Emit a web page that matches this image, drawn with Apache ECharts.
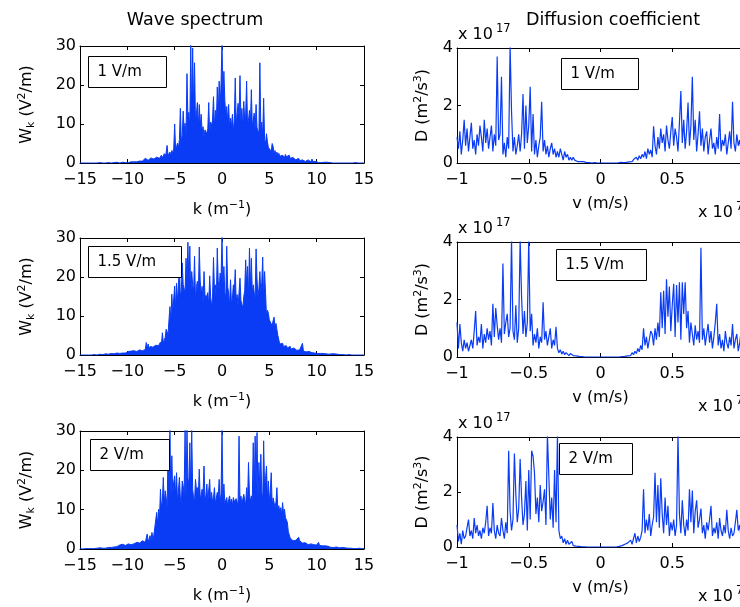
<!DOCTYPE html>
<html><head><meta charset="utf-8">
<script src="https://cdn.jsdelivr.net/npm/echarts@6/dist/echarts.min.js"></script>
<style>html,body{margin:0;padding:0;background:#fff}#c{width:740px;height:607px}</style>
</head><body><div id="c"></div>
<script>
// sampling grids
const kMin = -15, kStep = 0.1;   // wave number k (1/m)
const vMin = -1, vStep = 0.01;   // velocity v (x1e7 m/s)

// Wave spectrum W_k (V^2/m), k = -15 ... 15
const wave1 = [
0,0,0.1,0,0,0.1,0,0,0.1,0,
0,0.1,0,0,0.1,0,0.1,0,0,0.1,
0,0.1,0,0.1,0,0.1,0,0,0.1,0,
0.1,0,0.1,0,0.2,0,0.1,0,0.1,0.2,
0.1,0.2,0,0.1,0.5,0.2,0.1,0.3,0.1,0.2,
0.3,0.1,0.4,0.2,0.3,0.2,0.5,0.3,0.2,0.4,
0.3,0.6,0.4,0.5,0.3,0.7,0.5,0.9,0.6,1.2,
0.8,1.4,0.7,1.1,0.9,1.3,0.8,1.6,1.0,1.2,
0.9,1.5,1.1,1.7,1.2,1.4,2.0,1.3,1.8,2.4,
1.6,2.6,4.5,1.9,2.2,2.8,2.0,3.2,2.5,3.6,
10.0,3.5,4.2,5.1,3.8,6.0,14.0,5.5,7.0,13.3,
8.5,10.2,7.0,22.9,11.5,13.0,9.0,30.5,12.0,29.5,
14.0,25.7,10.5,12.8,15.5,9.0,15.0,9.3,12.5,8.0,
9.3,6.5,8.5,9.0,7.5,8.8,15.5,7.0,10.5,9.5,
11.0,17.0,9.0,13.5,10.0,19.5,12.5,21.0,14.0,20.5,
31.0,18.0,23.5,16.0,12.0,14.5,10.5,15.0,9.0,11.5,
9.3,12.5,8.0,11.0,21.8,10.0,9.5,15.3,12.0,22.4,
10.5,14.0,9.0,15.8,11.0,12.5,21.0,9.5,11.0,13.5,
10.0,18.8,9.5,11.0,12.8,8.5,15.0,9.0,9.3,7.5,
25.7,8.0,10.5,7.0,16.6,6.0,5.0,7.5,5.4,4.0,
4.5,3.5,3.0,5.0,4.2,2.5,3.2,2.0,2.8,1.8,
2.5,1.7,2.2,1.5,2.0,1.9,1.4,2.2,1.6,1.9,
1.3,2.0,1.2,1.7,1.1,1.4,0.9,1.6,0.8,1.0,
0.7,1.2,0.6,0.9,0.5,0.8,0.6,1.0,0.4,0.7,
0.5,0.8,0.4,0.6,0.3,1.0,0.4,0.5,0.3,0.4,
0.2,0.3,0.1,0.2,0.3,0.1,0.2,0.1,0.2,0.1,
0.1,0.2,0,0.1,0.1,0,0.1,0,0.1,0,
0,0.1,0,0,0.1,0,0,0.1,0,0,
0.1,0,0,0.1,0,0,0.1,0,0,0,
0,0.1,0,0,0,0.1,0,0,0,0,
0];
const wave2 = [
0,0,0.1,0,0,0.1,0,0,0.1,0,
0,0.1,0,0.1,0,0.1,0,0.1,0,0.1,
0.1,0.2,0.1,0.2,0.1,0.2,0.1,0.3,0.2,0.3,
0.2,0.3,0.2,0.4,0.3,0.5,0.3,0.4,0.3,0.5,
0.4,0.6,0.4,0.5,0.7,0.5,0.6,0.8,0.5,0.7,
0.6,0.9,0.7,0.8,1.0,0.7,0.9,1.1,0.8,1.0,
0.9,1.2,0.8,1.3,1.0,1.4,1.1,1.5,1.2,1.4,
3.2,1.6,2.8,1.5,2.2,1.9,2.6,2.0,2.4,1.8,
2.5,2.1,3.0,2.4,2.8,3.3,2.6,5.7,3.1,3.8,
4.5,6.6,7.0,5.2,9.0,12.4,8.5,15.6,11.0,10.5,
17.7,12.0,18.4,13.5,14.0,22.7,15.0,16.5,23.6,18.0,
18.0,16.0,24.8,19.0,28.9,17.5,27.9,15.0,21.4,18.0,
16.0,25.3,14.0,17.5,18.9,15.0,27.7,19.0,15.5,17.6,
13.0,21.4,15.5,14.5,14.1,16.0,12.5,20.3,15.0,12.4,
14.5,25.0,17.0,18.0,13.5,27.4,19.0,16.5,21.0,19.5,
30.5,18.0,22.7,16.0,14.5,27.9,17.5,15.9,12.5,19.3,
13.0,14.6,18.0,16.5,21.9,13.5,15.5,12.4,16.0,19.7,
14.0,13.5,12.0,15.0,16.5,24.4,18.0,22.7,14.5,27.4,
17.0,24.8,16.0,18.0,15.9,14.5,27.2,19.5,15.0,17.1,
21.4,16.0,18.5,25.1,14.0,21.4,16.0,9.9,11.5,10.7,
9.0,8.5,9.4,7.5,8.8,9.7,7.0,8.1,6.5,5.0,
3.9,2.8,3.2,2.5,3.0,2.2,2.6,1.9,2.4,1.8,
2.0,1.7,2.2,1.5,1.9,1.4,1.8,1.3,1.6,1.2,
1.4,1.1,1.3,1.0,1.2,3.0,1.0,0.9,1.1,0.8,
1.0,0.8,0.9,0.7,0.8,0.6,0.7,0.6,0.5,0.7,
0.5,0.4,0.6,0.3,0.4,0.5,0.3,0.4,0.3,0.4,
0.3,0.2,0.4,0.2,0.3,0.2,0.3,0.2,0.2,0.3,
0.2,0.1,0.2,0.1,0.2,0.1,0.1,0.2,0.1,0.1,
0.1,0,0.1,0,0.1,0,0.1,0,0,0.1,
0,0.1,0,0,0.1,0,0,0,0.1,0,
0];
const wave3 = [
0.1,0,0.1,0,0.1,0,0.1,0,0.1,0.1,
0.1,0.2,0.1,0.1,0.2,0.1,0.2,0.1,0.2,0.1,
0.2,0.3,0.2,0.3,0.2,0.4,0.3,0.2,0.4,0.3,
0.4,0.3,0.5,0.4,0.6,0.4,0.5,0.7,0.5,0.6,
0.8,0.6,1.0,0.7,0.9,1.2,0.8,1.0,0.9,1.3,
1.0,1.3,0.9,1.2,1.1,1.4,1.0,1.3,1.2,1.5,
1.7,1.3,2.0,1.5,1.8,1.4,2.1,1.6,1.9,1.7,
2.2,3.8,1.9,2.5,3.4,2.0,4.2,2.6,3.5,4.0,
3.2,9.3,6.0,10.1,8.0,15.2,10.5,12.0,18.2,11.5,
14.8,13.0,10.5,24.5,16.0,30.5,12.0,23.7,14.0,17.0,
18.6,13.5,19.4,12.0,15.0,18.2,13.0,11.5,17.3,16.0,
14.0,30.5,12.5,30.5,18.0,16.0,27.0,14.0,30.5,15.2,
13.0,12.0,17.7,15.0,15.6,13.5,20.3,12.5,13.0,15.2,
14.0,21.1,12.5,13.5,16.5,12.0,15.0,17.7,11.5,14.4,
12.0,13.0,15.6,11.5,12.0,14.4,13.0,17.7,12.0,14.0,
30.5,12.5,16.5,11.5,12.0,13.1,11.0,12.5,13.5,11.5,
12.7,11.0,13.1,12.0,11.5,12.8,12.0,11.0,28.7,12.0,
13.5,11.5,12.0,13.9,12.5,11.0,15.6,12.0,22.0,14.0,
12.0,13.5,12.5,27.0,14.0,28.7,16.0,29.6,13.0,22.0,
15.0,24.1,14.5,12.0,27.5,15.5,18.0,21.1,13.0,17.3,
12.0,14.5,19.4,11.0,13.0,11.8,10.5,12.0,15.6,10.0,
11.0,9.5,10.5,8.8,11.8,9.0,10.1,8.0,7.5,6.8,
4.5,3.6,2.8,3.2,2.4,2.1,2.6,1.9,2.2,2.0,
1.8,3.0,2.1,1.6,2.1,1.5,1.9,1.4,1.6,1.3,
1.3,1.1,1.4,1.0,1.3,1.2,1.0,1.1,1.3,0.9,
1.0,0.8,1.7,0.9,1.3,0.7,0.8,0.9,0.6,0.8,
0.6,0.5,0.7,0.5,0.6,0.4,0.5,0.6,0.4,0.5,
0.4,0.5,0.3,0.4,0.3,0.5,0.3,0.4,0.3,0.2,
0.3,0.2,0.3,0.2,0.2,0.1,0.2,0.1,0.2,0.1,
0.1,0.2,0.1,0.1,0.1,0.2,0.1,0.1,0.1,0.1,
0.1];

// Diffusion coefficient D (x1e17 m^2/s^3), v = -1 ... 1 (x1e7 m/s)
const diff1 = [
0.9,0.5,1.1,0.3,0.8,1.5,0.6,1.2,0.4,0.9,
1.4,0.5,0.8,0.3,1.0,0.6,1.3,0.9,0.4,1.5,
0.7,1.2,0.5,0.9,1.3,0.4,1.0,0.6,3.7,0.8,
1.0,3.0,0.3,0.7,0.2,0.9,0.5,4.1,1.8,0.4,
0.9,0.3,0.6,1.0,0.4,1.0,2.4,0.5,2.0,0.7,
1.3,2.65,0.4,1.7,0.3,0.8,0.2,0.6,0.9,2.13,
0.4,0.8,0.3,0.6,0.2,0.5,0.7,0.3,0.5,0.2,
0.4,0.2,0.5,0.3,0.1,0.4,0.2,0.3,0.1,0.2,
0.1,0.2,0.1,0.15,0.05,0.1,0.05,0.02,0.05,0.01,
0.02,0,0.01,0,0,0,0.01,0,0,0,
0,0,0,0,0,0,0,0,0,0,
0,0.01,0,0,0.02,0,0.01,0.03,0.02,0.05,
0.04,0.08,0.05,0.12,0.07,0.2,0.1,0.25,0.15,0.3,
0.2,0.4,0.15,0.5,0.3,0.45,0.2,1.28,0.6,0.3,
0.9,0.5,1.2,0.7,1.0,0.4,1.3,0.8,0.5,1.1,
1.6,0.6,1.2,0.9,0.4,1.4,2.5,0.7,1.5,0.5,
1.1,2.1,0.6,1.3,3.0,0.8,1.5,0.4,1.0,1.8,
0.6,1.2,0.4,0.9,1.1,0.3,0.8,1.2,0.5,0.7,
0.3,0.9,0.5,1.7,0.4,0.8,0.6,1.0,0.3,0.7,
1.1,0.5,2.13,0.7,0.4,1.0,0.6,0.8,0.4,0.7,
0.5];
const diff2 = [
1.2,0.3,1.15,0.5,0.2,0.6,0.3,0.5,0.2,0.4,
0.6,0.3,0.9,1.6,0.4,0.7,0.5,1.15,0.3,0.8,
0.5,1.0,0.6,0.9,0.4,1.85,0.7,1.7,1.1,0.6,
1.0,0.5,3.25,0.8,1.2,1.5,0.7,1.0,4.1,0.9,
0.6,1.8,0.5,1.0,4.1,2.1,0.8,1.6,0.7,1.2,
4.1,0.9,1.5,0.4,0.8,0.5,1.0,0.3,0.7,0.5,
1.9,0.6,0.9,0.4,0.7,1.0,0.3,0.6,0.4,1.05,
0.3,0.15,0.25,0.1,0.2,0.08,0.15,0.1,0.05,0.12,
0.08,0.05,0.1,0.04,0.06,0.02,0.04,0.01,0.02,0,
0.01,0,0,0,0,0,0,0,0,0,
0,0,0,0,0,0,0,0,0,0,
0,0,0.01,0,0.02,0.01,0.03,0.02,0.06,0.04,
0.1,0.05,0.15,0.08,0.2,0.12,0.3,0.18,0.4,0.25,
1.0,0.4,0.7,0.3,0.6,0.9,0.8,0.4,1.0,0.6,
1.2,0.7,2.25,1.0,2.3,0.8,2.7,1.4,2.45,0.9,
1.8,2.55,0.7,2.5,1.2,2.6,0.6,2.6,1.5,2.6,
1.0,1.6,0.5,1.2,0.8,0.4,1.1,0.6,0.9,0.5,
3.8,0.6,1.0,0.4,0.8,1.15,0.5,0.9,0.3,0.7,
1.2,1.85,0.4,0.8,0.3,0.6,0.2,0.9,0.5,0.3,
0.7,0.4,1.15,0.3,0.6,0.8,0.2,0.5,0.9,0.4,
0.6];
const diff3 = [
0.8,0.2,0.5,0.1,0.6,0.3,0.4,0.7,1.0,0.4,
0.6,0.3,1.05,0.5,0.8,0.4,0.6,0.3,0.7,0.5,
0.9,1.5,0.4,0.7,0.5,1.6,0.6,0.3,0.8,0.5,
0.4,1.05,0.6,0.3,0.9,0.5,3.5,1.3,0.6,1.0,
3.4,1.9,0.9,1.4,3.2,1.8,0.8,1.2,2.4,0.6,
2.8,1.0,3.5,3.3,2.7,1.2,1.8,0.9,2.25,1.3,
1.65,2.1,0.8,4.1,2.56,1.0,1.8,0.7,2.8,0.9,
4.1,0.6,0.3,0.4,0.15,0.3,0.1,0.25,0.1,0.15,
0.2,0.05,0.1,0.03,0.06,0.02,0.04,0.01,0,0.01,
0,0,0,0,0,0,0,0,0,0,
0,0,0,0,0,0,0,0,0,0,
0,0,0,0.02,0.01,0.05,0.02,0.1,0.04,0.15,
0.08,0.25,0.1,0.3,0.5,0.15,0.4,0.2,0.35,0.6,
2.1,0.5,1.0,0.6,1.2,0.4,0.8,1.1,2.7,0.9,
2.25,0.7,2.5,1.2,0.5,1.8,0.8,1.5,0.4,0.9,
0.6,1.0,0.4,0.8,4.1,1.2,0.5,1.7,0.8,0.4,
1.0,0.6,2.1,0.9,2.05,0.5,1.3,1.7,0.7,1.0,
1.4,0.5,0.8,0.3,0.9,0.6,1.0,1.5,0.4,0.7,
0.5,0.9,0.3,1.05,0.6,0.4,0.8,0.5,1.35,0.6,
0.3,0.7,0.4,0.5,0.9,1.35,0.6,0.8,0.3,0.5,
0.6];

const fieldLabels = ['1 V/m', '1.5 V/m', '2 V/m'];
const leftTitle = 'Wave spectrum';
const rightTitle = 'Diffusion coefficient';
const kTicks = { min: -15, max: 15, interval: 5 };
const wTicks = { min: 0, max: 30, interval: 10 };
const vTicks = { min: -1, max: 1, interval: 0.5 };
const dTicks = { min: 0, max: 4, interval: 2 };

const FONT = 'DejaVu Sans';
const BLUE = '#0a3cf5';

function pairs(start, step, vals) {
  return vals.map((y, i) => [Math.round((start + i * step) * 1000) / 1000, y]);
}
function minus(v) { return (v < 0 ? '\u2212' : '') + Math.abs(v); }

const leftBoxes = [{top:46,height:117},{top:238,height:117},{top:431,height:118}];
const rightBoxes = [{top:48,height:115},{top:242,height:115},{top:437,height:110}];

const grids = [], xAxes = [], yAxes = [], series = [];
const rich = {
  m: { fontSize: 16, fontFamily: FONT, color: '#000' },
  s: { fontSize: 11, fontFamily: FONT, color: '#000', padding: [0, 0, 9, 0] },
  b: { fontSize: 11, fontFamily: FONT, color: '#000', padding: [9, 0, 0, 0] }
};
const lbl = { color: '#000', fontFamily: FONT, fontSize: 16 };
function axisBase(extra) {
  return Object.assign({
    type: 'value',
    axisLine: { show: true, onZero: false, lineStyle: { color: '#000', width: 1 } },
    axisTick: { show: true, inside: true, length: 4, lineStyle: { color: '#000', width: 1 } },
    splitLine: { show: false }
  }, extra);
}

const waves = [wave1, wave2, wave3];
const diffs = [diff1, diff2, diff3];

for (let r = 0; r < 3; r++) {
  // left panel
  let gi = grids.length;
  grids.push({ left: 80, width: 284, top: leftBoxes[r].top, height: leftBoxes[r].height, outerBoundsMode: 'none', containLabel: false });
  xAxes.push(axisBase({ gridIndex: gi, position: 'bottom', min: kTicks.min, max: kTicks.max, interval: kTicks.interval,
    axisLabel: Object.assign({ margin: 9, formatter: minus }, lbl),
    name: '{m|k (m}{s|\u22121}{m|)}', nameLocation: 'middle', nameGap: 37,
    nameTextStyle: { rich: rich } }));
  xAxes.push(axisBase({ gridIndex: gi, position: 'top', min: kTicks.min, max: kTicks.max, interval: kTicks.interval,
    axisLabel: { show: false } }));
  yAxes.push(axisBase({ gridIndex: gi, position: 'left', min: wTicks.min, max: wTicks.max, interval: wTicks.interval,
    axisLabel: Object.assign({ margin: 4 }, lbl),
    name: '{m|W}{b|k}{m| (V}{s|2}{m|/m)}', nameLocation: 'middle', nameGap: 43, nameRotate: 90,
    nameTextStyle: { rich: rich } }));
  yAxes.push(axisBase({ gridIndex: gi, position: 'right', min: wTicks.min, max: wTicks.max, interval: wTicks.interval,
    axisLabel: { show: false } }));
  series.push({ type: 'line', xAxisIndex: xAxes.length - 2, yAxisIndex: yAxes.length - 2,
    data: pairs(kMin, kStep, waves[r]), showSymbol: false, symbol: 'none', animation: false,
    lineStyle: { color: BLUE, width: 1 }, areaStyle: { color: BLUE, opacity: 1 }, clip: true });

  // right panel
  gi = grids.length;
  grids.push({ left: 457, width: 287, top: rightBoxes[r].top, height: rightBoxes[r].height, outerBoundsMode: 'none', containLabel: false });
  xAxes.push(axisBase({ gridIndex: gi, position: 'bottom', min: vTicks.min, max: vTicks.max, interval: vTicks.interval,
    axisLabel: Object.assign({ margin: 9, formatter: minus }, lbl),
    name: 'v (m/s)', nameLocation: 'middle', nameGap: 33,
    nameTextStyle: { color: '#000', fontFamily: FONT, fontSize: 16 } }));
  xAxes.push(axisBase({ gridIndex: gi, position: 'top', min: vTicks.min, max: vTicks.max, interval: vTicks.interval,
    axisLabel: { show: false } }));
  yAxes.push(axisBase({ gridIndex: gi, position: 'left', min: dTicks.min, max: dTicks.max, interval: dTicks.interval,
    axisLabel: Object.assign({ margin: 4 }, lbl),
    name: '{m|D (m}{s|2}{m|/s}{s|3}{m|)}', nameLocation: 'middle', nameGap: 24, nameRotate: 90,
    nameTextStyle: { rich: rich } }));
  yAxes.push(axisBase({ gridIndex: gi, position: 'right', min: dTicks.min, max: dTicks.max, interval: dTicks.interval,
    axisLabel: { show: false } }));
  series.push({ type: 'line', xAxisIndex: xAxes.length - 2, yAxisIndex: yAxes.length - 2,
    data: pairs(vMin, vStep, diffs[r]), showSymbol: false, symbol: 'none', animation: false,
    lineStyle: { color: BLUE, width: 1.2 }, clip: true });
}

const graphic = [];
function txt(x, y, s, size, align, vAlign) {
  graphic.push({ type: 'text', x: x, y: y, z: 100, silent: true,
    style: { text: s, font: size + 'px "' + FONT + '"', fill: '#000', align: align || 'left', verticalAlign: vAlign || 'middle' } });
}
txt(195, 20, leftTitle, 17.5, 'center');
txt(613, 20, rightTitle, 17.5, 'center');

const leftLegend = [[88.5, 56.5, 78], [88.5, 246.5, 93], [90.5, 439.5, 79]];
const rightLegend = [[561.5, 58.5, 77], [556.5, 249.5, 90], [559.5, 443.5, 73]];
for (let r = 0; r < 3; r++) {
  [leftLegend[r], rightLegend[r]].forEach(b => {
    graphic.push({ type: 'rect', z: 99, silent: true, shape: { x: b[0], y: b[1], width: b[2], height: 31 },
      style: { fill: '#fff', stroke: '#000', lineWidth: 1 } });
    txt(b[0] + 9, b[1] + 16, fieldLabels[r], 15, 'left');
  });
  // exponent labels of right panel
  const top = rightBoxes[r].top, bot = top + rightBoxes[r].height;
  txt(458, top - 13, 'x 10', 16, 'left');
  txt(496, top - 19, '17', 11.5, 'left');
  txt(698, bot + 50, 'x 10', 16, 'left');
  txt(736, bot + 44, '7', 11.5, 'left');
}

const chart = echarts.init(document.getElementById('c'), null, { renderer: 'canvas' });
chart.setOption({
  animation: false,
  backgroundColor: '#fff',
  grid: grids, xAxis: xAxes, yAxis: yAxes, series: series, graphic: graphic
});
</script></body></html>
